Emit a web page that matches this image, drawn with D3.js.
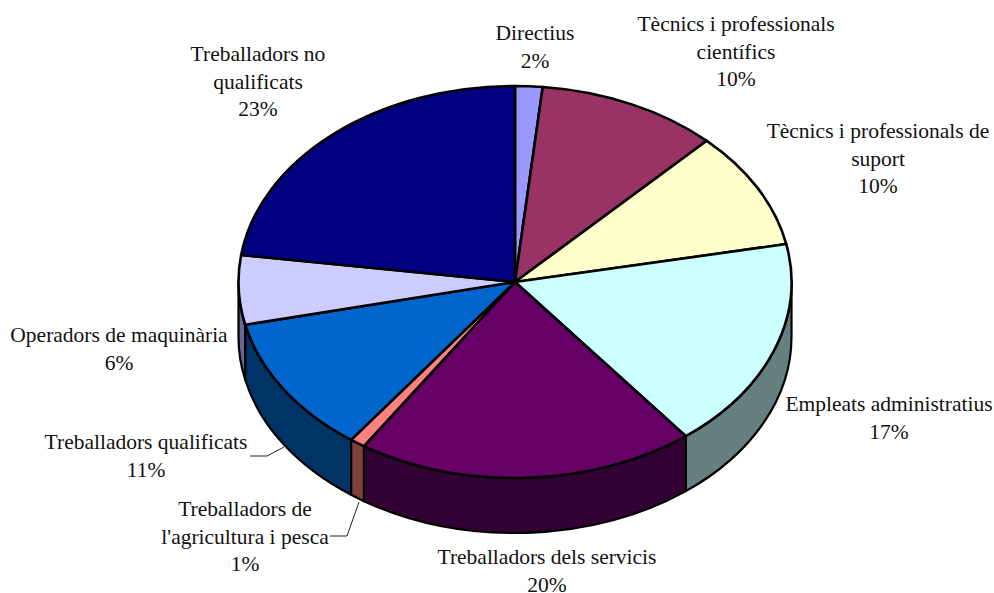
<!DOCTYPE html>
<html>
<head>
<meta charset="utf-8">
<script src="https://cdn.jsdelivr.net/npm/d3@7"></script>
<style>
  html, body { margin: 0; padding: 0; background: #fff; }
  text { font-family: "Liberation Serif", serif; font-size: 21.5px; fill: #111; text-anchor: middle; }
</style>
</head>
<body>
<script>
// share of each group
var categories = ["Directius", "Tècnics i professionals científics", "Tècnics i professionals de suport",
    "Empleats administratius", "Treballadors dels servicis", "Treballadors de l'agricultura i pesca",
    "Treballadors qualificats", "Operadors de maquinària", "Treballadors no qualificats"]
var shares = [1.6, 10.6, 9.7, 17.5, 19.8, 0.9, 11.4, 5.7, 22.8]
var percentLabels = ["2%", "10%", "10%", "17%", "20%", "1%", "11%", "6%", "23%"]
var topColors = ["#9999ff", "#993366", "#ffffcc", "#ccffff", "#660066", "#ff8080", "#0066cc", "#ccccff", "#000080"]
var sideColors = ["#666699", "#662244", "#808066", "#668080", "#330033", "#804040", "#003366", "#666699", "#000040"]

// how each label breaks into lines, plus where it sits
var labelLines = [
    ["Directius"],
    ["Tècnics i professionals", "científics"],
    ["Tècnics i professionals de", "suport"],
    ["Empleats administratius"],
    ["Treballadors dels servicis"],
    ["Treballadors de", "l'agricultura i pesca"],
    ["Treballadors qualificats"],
    ["Operadors de maquinària"],
    ["Treballadors no", "qualificats"]
]
var labelX = [535, 736, 878, 889, 547, 245, 146, 119, 258]
var labelY = [40, 31, 138, 411, 564, 516, 449, 342, 61]
var leaders = [
    [[250, 456], [267, 456], [284, 447]],
    [[330, 536], [347, 536], [359, 502]]
]

var width = 994, height = 593
var cx = 515, cy = 282, rx = 276.5, ry = 196, depth = 55

var svg = d3.select("body").append("svg")
    .attr("width", width)
    .attr("height", height)
    .style("display", "block")

var slices = d3.pie().sort(null)(shares)

// point on the rim for an angle measured clockwise from the top
function rim(a) {
    return [cx + rx * Math.sin(a), cy - ry * Math.cos(a)]
}

// side wall, only the part of the rim that faces the viewer
function wallPath(d) {
    var a0 = Math.max(d.startAngle, Math.PI / 2)
    var a1 = Math.min(d.endAngle, Math.PI * 1.5)
    if (a1 <= a0) return null
    var p0 = rim(a0), p1 = rim(a1)
    return "M" + p0 + " A" + rx + " " + ry + " 0 0 1 " + p1 +
        " L" + [p1[0], p1[1] + depth] +
        " A" + rx + " " + ry + " 0 0 0 " + [p0[0], p0[1] + depth] + " Z"
}

svg.selectAll("path.wall")
    .data(slices.filter(d => wallPath(d) != null))
    .enter()
    .append("path")
    .attr("class", "wall")
    .attr("d", wallPath)
    .attr("fill", d => sideColors[d.index])
    .attr("stroke", "#000")
    .attr("stroke-width", 2.2)
    .attr("stroke-linejoin", "round")

var arc = d3.arc().innerRadius(0).outerRadius(rx)

svg.append("g")
    .attr("transform", "translate(" + cx + "," + cy + ") scale(1," + (ry / rx) + ")")
    .selectAll("path")
    .data(slices)
    .enter()
    .append("path")
    .attr("d", arc)
    .attr("fill", d => topColors[d.index])
    .attr("stroke", "#000")
    .attr("stroke-width", 2.6)
    .attr("stroke-linejoin", "round")
    .attr("vector-effect", "non-scaling-stroke")

svg.selectAll("path.leader")
    .data(leaders)
    .enter()
    .append("path")
    .attr("class", "leader")
    .attr("d", d3.line())
    .attr("fill", "none")
    .attr("stroke", "#222")
    .attr("stroke-width", 1)

var labels = svg.selectAll("g.label")
    .data(categories)
    .enter()
    .append("g")
    .attr("class", "label")

labels.each(function (name, i) {
    var lines = labelLines[i].concat([percentLabels[i]])
    d3.select(this).selectAll("text")
        .data(lines)
        .enter()
        .append("text")
        .attr("x", labelX[i])
        .attr("y", (line, j) => labelY[i] + j * 27.5)
        .text(line => line)
})
</script>
</body>
</html>
